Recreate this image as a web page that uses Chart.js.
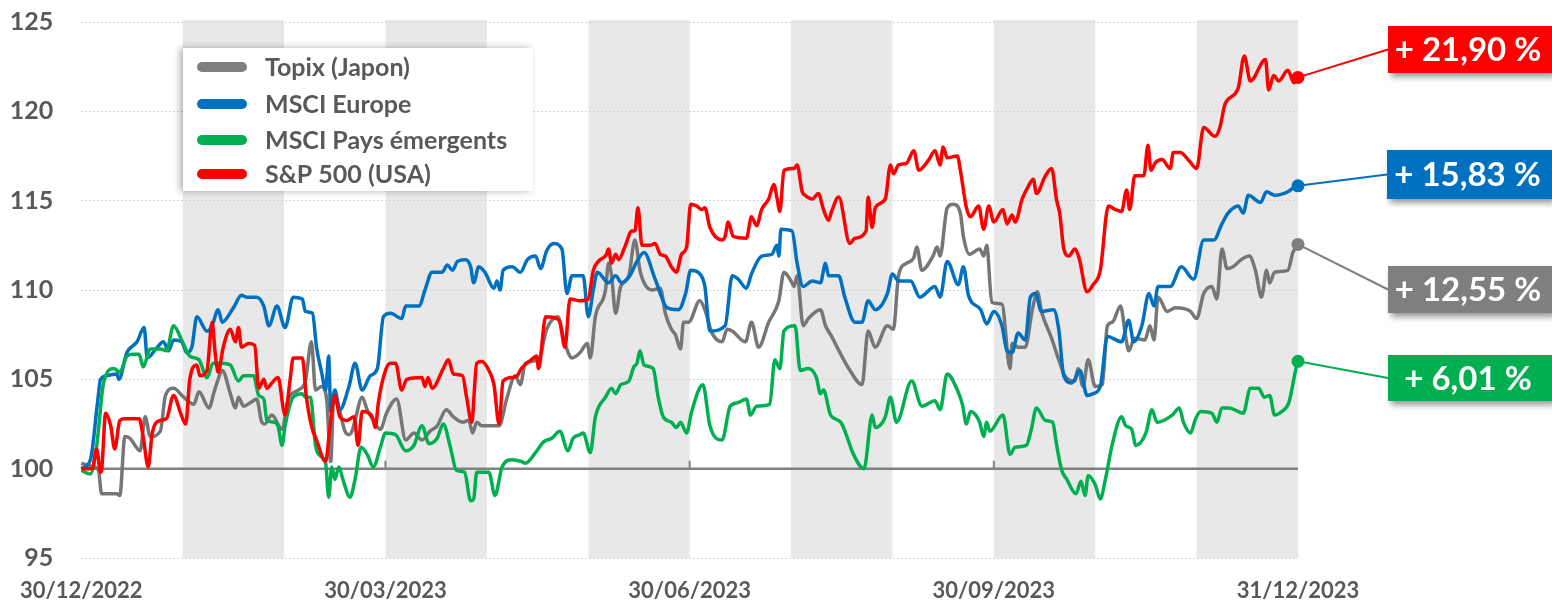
<!DOCTYPE html>
<html>
<head>
<meta charset="utf-8">
<script src="https://cdn.jsdelivr.net/npm/chart.js@4.4.1/dist/chart.umd.min.js"></script>
<style>
    html, body { margin: 0; padding: 0; background: #fff; }
    #wrap { width: 1552px; height: 603px; }
</style>
</head>
<body>
<div id="wrap"><canvas id="perfChart" width="1552" height="603"></canvas></div>
<script>
// x = months since 30/12/2022, y = base 100
const tickMonths = [0, 3, 6, 9, 12];
const tickLabels = ['30/12/2022', '30/03/2023', '30/06/2023', '30/09/2023', '31/12/2023'];
const shadedMonths = [[1, 2], [3, 4], [5, 6], [7, 8], [9, 10], [11, 12]];

const seriesNames = ['Topix (Japon)', 'MSCI Europe', 'MSCI Pays émergents', 'S&P 500 (USA)'];
const finalPerf = ['+ 12,55 %', '+ 15,83 %', '+ 6,01 %', '+ 21,90 %'];

const topix = [[0,100.3],[0.12,100.1],[0.17,99.9],[0.2,98.6],[0.29,98.6],[0.35,98.6],[0.38,98.5],[0.43,101.8],[0.48,101.7],[0.58,101],[0.63,102.9],[0.68,101.8],[0.78,102.1],[0.83,104.1],[0.91,104.5],[1.01,104],[1.11,103.6],[1.16,104.3],[1.26,103.4],[1.31,104.3],[1.35,105],[1.39,105.5],[1.47,104.2],[1.52,103.4],[1.55,104],[1.6,103.5],[1.67,103.7],[1.73,103.9],[1.78,102.6],[1.81,102.5],[1.88,103],[1.98,102.2],[2.04,103.9],[2.14,104.4],[2.21,104.9],[2.27,107.1],[2.31,104.4],[2.37,104.6],[2.42,103.9],[2.46,100.4],[2.49,103.9],[2.55,103.2],[2.6,102.1],[2.64,101.9],[2.67,102.1],[2.7,102.7],[2.77,104],[2.82,103.3],[2.88,102.7],[2.95,102.2],[3.01,103.1],[3.11,103.9],[3.2,101.6],[3.28,102],[3.36,101.6],[3.44,102.1],[3.51,102.4],[3.6,103.3],[3.67,102.9],[3.76,102.6],[3.82,102.7],[3.86,102],[3.9,102.6],[3.95,102.4],[4.12,102.4],[4.2,104],[4.28,105.2],[4.33,104.7],[4.38,105.9],[4.51,106.1],[4.59,107.8],[4.7,108.5],[4.77,107],[4.84,106.2],[4.92,106.5],[4.99,107],[5.02,106.2],[5.07,108.5],[5.17,110],[5.2,111.5],[5.23,110.8],[5.27,108.7],[5.32,110.2],[5.4,110.8],[5.46,112.8],[5.51,111.1],[5.56,110.3],[5.63,110],[5.71,110.1],[5.76,108.7],[5.82,107.8],[5.86,107.5],[5.91,106.7],[5.94,108.2],[5.99,108.2],[6.1,109.4],[6.15,108.9],[6.22,107.6],[6.32,107.1],[6.37,107.8],[6.42,107.7],[6.55,107.1],[6.61,108.2],[6.68,106.8],[6.78,108.2],[6.88,109.4],[6.93,111],[7,110.5],[7.03,110.2],[7.06,110.8],[7.12,108],[7.17,108.4],[7.29,108.9],[7.34,108],[7.4,107.4],[7.5,106.3],[7.57,105.6],[7.7,104.7],[7.76,107.7],[7.83,106.8],[7.95,108],[8.01,107.8],[8.06,110.8],[8.14,111.5],[8.21,111.8],[8.24,112.4],[8.29,111.1],[8.4,111.9],[8.44,112.4],[8.47,111.9],[8.54,114.6],[8.6,114.8],[8.67,114.3],[8.7,113],[8.76,112],[8.86,112.3],[8.9,111.9],[8.93,112.5],[8.98,109.3],[9.08,109.2],[9.16,105.6],[9.18,107],[9.24,106.8],[9.31,106.8],[9.38,108.9],[9.43,109.9],[9.47,108.8],[9.57,107.3],[9.64,106.1],[9.7,105.2],[9.8,104.9],[9.83,105.6],[9.88,104.6],[9.93,106.1],[10,104.6],[10.07,104.7],[10.12,108],[10.17,108.2],[10.25,109.1],[10.3,107.4],[10.33,106.6],[10.39,107.3],[10.49,107.2],[10.54,108],[10.58,107.2],[10.62,109.6],[10.71,108.8],[10.79,109],[10.94,108.8],[11,108.4],[11.07,109.8],[11.15,110.2],[11.2,109.5],[11.25,112.3],[11.3,111.2],[11.36,111.3],[11.44,111.7],[11.52,111.9],[11.58,111.1],[11.64,109.6],[11.69,111.1],[11.72,110.4],[11.77,111],[11.9,111.1],[11.95,112.1],[12,112.55]];

const msciEurope = [[0,100],[0.09,100.5],[0.16,103.7],[0.19,105],[0.25,105.2],[0.35,105.3],[0.37,105],[0.45,106.5],[0.55,107.1],[0.62,107.9],[0.65,106.2],[0.75,106.8],[0.81,107.1],[0.86,106.6],[0.91,107.2],[0.99,107.1],[1.04,106.5],[1.09,106.8],[1.14,108.5],[1.24,107.7],[1.29,108],[1.35,108.9],[1.39,108.2],[1.5,109],[1.58,109.7],[1.63,109.6],[1.73,109.6],[1.8,109.1],[1.85,108],[1.93,109.1],[2.01,107.9],[2.09,109.6],[2.18,109.5],[2.21,108.8],[2.28,108.7],[2.32,106.8],[2.37,105.4],[2.41,104.4],[2.44,106.3],[2.46,103.2],[2.5,104.4],[2.55,103.3],[2.64,104.6],[2.7,105.9],[2.77,104.4],[2.85,105.2],[2.92,105.6],[2.98,108.5],[3.05,108.7],[3.16,108.4],[3.2,109.1],[3.33,109.1],[3.39,110],[3.46,111],[3.56,111],[3.61,111.4],[3.66,111.1],[3.71,111.6],[3.79,111.7],[3.84,111.3],[3.87,110.4],[3.92,111.3],[3.98,111],[4.07,110.1],[4.1,110.5],[4.13,110],[4.16,111.1],[4.25,111.3],[4.33,111],[4.4,111.7],[4.48,111.9],[4.53,111.2],[4.59,112.2],[4.66,112.6],[4.74,112.3],[4.79,109.8],[4.84,110.8],[4.9,110.8],[4.95,110.8],[5,108.5],[5.05,110],[5.09,111],[5.2,110.4],[5.27,110.8],[5.33,110.4],[5.41,110.8],[5.48,111.6],[5.55,112.1],[5.66,110.6],[5.78,109],[5.89,108.9],[5.96,109.8],[6.01,111.1],[6.1,110.9],[6.15,110.2],[6.2,107.7],[6.35,108],[6.42,110.8],[6.48,110.6],[6.56,110.1],[6.61,110.9],[6.71,111.9],[6.81,112],[6.86,112.5],[6.88,111.9],[6.9,113.4],[7.01,113.3],[7.06,111.5],[7.12,110.2],[7.21,110.5],[7.29,110.4],[7.34,111.5],[7.37,110.8],[7.47,110.8],[7.53,109.6],[7.63,108.2],[7.7,108.2],[7.76,109.4],[7.83,108.9],[7.95,109.8],[8,110.9],[8.06,110.5],[8.18,110.5],[8.27,109.6],[8.42,110.2],[8.47,109.6],[8.54,111.6],[8.65,110.3],[8.7,111.3],[8.75,109.7],[8.87,108.9],[8.93,108.1],[9,108.8],[9.08,108],[9.13,106.6],[9.18,106.5],[9.24,107.6],[9.31,107.2],[9.36,109.6],[9.41,109.8],[9.47,108.8],[9.59,108.9],[9.64,107.8],[9.69,105.2],[9.77,104.8],[9.85,105.5],[9.92,104.1],[9.98,104.2],[10.05,104.6],[10.12,107.4],[10.26,107.1],[10.33,108.3],[10.38,107.1],[10.46,108],[10.53,109.8],[10.58,109.1],[10.62,110.2],[10.74,110.2],[10.85,111.3],[10.97,110.6],[11.07,112.8],[11.17,112.8],[11.25,113.7],[11.31,114.3],[11.41,114.7],[11.46,114.3],[11.51,115.3],[11.63,114.9],[11.69,115.5],[11.77,115.3],[11.9,115.5],[11.95,115.7],[12,115.83]];

const msciEmerging = [[0,99.9],[0.09,99.7],[0.15,101.2],[0.22,104.8],[0.32,105.6],[0.38,105.4],[0.45,106.3],[0.51,106.4],[0.57,106.4],[0.61,105.7],[0.68,106.7],[0.78,106.7],[0.84,106.6],[0.91,108],[0.99,107.2],[1.07,106.3],[1.16,106.1],[1.24,105.1],[1.3,105.9],[1.39,105.9],[1.47,105.8],[1.55,104.9],[1.6,105.2],[1.7,105.2],[1.75,104.1],[1.8,103.9],[1.83,102.7],[1.9,102.6],[1.94,102.4],[1.98,101.3],[2.01,102.4],[2.09,104],[2.18,104.2],[2.21,104],[2.26,104],[2.31,101.3],[2.36,100.7],[2.41,100.3],[2.44,98.4],[2.47,100.1],[2.5,99.4],[2.54,100.1],[2.58,99.4],[2.65,98.4],[2.7,99.4],[2.76,101.2],[2.82,100.8],[2.88,100.1],[2.95,101.2],[3,102],[3.1,101.9],[3.2,101],[3.28,101.3],[3.36,102.4],[3.43,101.4],[3.51,101.7],[3.57,102.5],[3.64,101.2],[3.7,99.9],[3.78,99.8],[3.84,98.2],[3.87,98.3],[3.9,99.8],[4.02,99.8],[4.08,98.5],[4.15,100.1],[4.25,100.5],[4.34,100.4],[4.38,100.3],[4.48,100.9],[4.56,101.5],[4.64,101.7],[4.72,102.1],[4.8,101],[4.85,101.7],[4.92,101.9],[4.95,102],[5.02,100.9],[5.07,102.9],[5.17,104],[5.23,104.5],[5.27,104.2],[5.32,104.7],[5.4,104.9],[5.45,105.7],[5.48,105.9],[5.51,106.6],[5.55,105.8],[5.64,105.6],[5.69,104],[5.74,102.9],[5.82,102.6],[5.87,102.3],[5.91,102.6],[5.97,102],[6.02,103.2],[6.13,104.7],[6.2,102.4],[6.32,101.6],[6.4,103.5],[6.48,103.7],[6.56,103.9],[6.6,103],[6.66,103.5],[6.79,103.6],[6.84,106.1],[6.89,105.6],[6.93,107.7],[7.04,108],[7.09,105.5],[7.17,105.6],[7.25,105.1],[7.29,104.2],[7.32,104.4],[7.39,103],[7.49,102.6],[7.57,101.5],[7.6,101],[7.72,100],[7.8,103],[7.83,102.3],[7.93,102.9],[7.98,104],[8.04,102.6],[8.19,104.9],[8.29,103.5],[8.42,103.8],[8.47,103.3],[8.54,105.3],[8.64,104.4],[8.69,103.6],[8.73,102.5],[8.77,103.2],[8.86,102.6],[8.9,101.8],[8.93,102.6],[8.96,102.1],[9.09,103],[9.16,100.8],[9.21,101.2],[9.32,101.3],[9.37,102.2],[9.42,103.4],[9.51,102.7],[9.58,102.6],[9.62,101.3],[9.67,99.9],[9.72,99.4],[9.81,98.6],[9.86,99.3],[9.9,98.5],[9.93,99.6],[10,99.1],[10.05,98.3],[10.1,99.4],[10.17,101.4],[10.26,102.9],[10.3,102.4],[10.36,102.2],[10.4,101.3],[10.5,102],[10.56,103.3],[10.61,102.6],[10.76,103],[10.83,103.4],[10.87,102.6],[10.94,102],[10.99,102.8],[11.04,103.2],[11.15,103.1],[11.2,102.6],[11.25,103.4],[11.32,103.4],[11.46,103.1],[11.53,104.5],[11.61,104.5],[11.67,104],[11.72,104.1],[11.77,103],[11.84,103.2],[11.91,103.7],[11.98,105.6],[12,106.01]];

const sp500 = [[0,100],[0.11,100],[0.15,101.1],[0.19,99.8],[0.2,99.9],[0.24,103.1],[0.29,102.4],[0.33,101.1],[0.38,102.7],[0.43,102.8],[0.57,102.8],[0.61,101.8],[0.66,100.1],[0.7,102],[0.78,102.7],[0.84,102.8],[0.91,104.1],[0.98,103.1],[1.03,102.5],[1.07,105],[1.14,105.8],[1.17,105.2],[1.24,105.5],[1.29,108.2],[1.32,106.5],[1.35,105.4],[1.4,106.8],[1.47,107.8],[1.52,107.1],[1.55,107.9],[1.58,106.8],[1.65,107],[1.71,106.9],[1.75,104.5],[1.8,105],[1.83,104.5],[1.88,104.8],[1.94,105.1],[2.01,103],[2.06,105],[2.09,106.2],[2.18,106.2],[2.22,104],[2.27,102.4],[2.32,101.6],[2.41,100.4],[2.45,102.2],[2.5,104.1],[2.55,102.9],[2.62,102.7],[2.69,102.9],[2.73,101.3],[2.77,103.2],[2.87,102.9],[2.9,102.3],[2.93,103.7],[3,105.5],[3.05,105.9],[3.1,105.9],[3.16,104.4],[3.21,105],[3.36,105.1],[3.39,104.6],[3.42,105.1],[3.46,104.5],[3.57,105.6],[3.62,106.1],[3.67,105.3],[3.76,105.2],[3.8,104],[3.85,102.6],[3.9,105.9],[3.95,106],[4.02,105.5],[4.07,104.7],[4.12,102.5],[4.16,104.9],[4.25,105.1],[4.3,105.2],[4.34,105.6],[4.44,106.1],[4.49,106.3],[4.51,105.6],[4.58,108.5],[4.69,108.4],[4.72,108.2],[4.77,106.8],[4.82,109.5],[4.92,109.4],[5,109.5],[5.05,111.1],[5.1,111.6],[5.18,112],[5.2,112.3],[5.23,111.5],[5.27,112],[5.3,111.7],[5.36,112.4],[5.43,113.3],[5.46,113.3],[5.49,114.6],[5.53,112.5],[5.61,112.5],[5.66,112.6],[5.71,112],[5.76,111.9],[5.82,111.3],[5.87,111],[5.92,112],[5.97,112.4],[6.01,114.8],[6.07,114.7],[6.12,114.5],[6.15,114.6],[6.2,113.5],[6.32,112.8],[6.35,113],[6.38,113.8],[6.43,113],[6.56,112.9],[6.61,114.1],[6.66,113.6],[6.71,114.5],[6.78,115.1],[6.83,115.9],[6.86,115.2],[6.89,114.4],[6.93,116.7],[7.03,116.8],[7.06,117],[7.11,115.5],[7.14,115.3],[7.21,115.1],[7.27,115.4],[7.32,114.5],[7.37,113.9],[7.4,114.4],[7.47,115.2],[7.58,112.6],[7.63,112.9],[7.74,113.3],[7.76,115.2],[7.8,113.5],[7.83,114.6],[7.93,115.1],[7.98,117],[8.01,116.5],[8.06,117],[8.14,117.1],[8.21,117.8],[8.26,116.7],[8.36,117.3],[8.42,117.8],[8.47,117],[8.5,118],[8.54,117.4],[8.64,117.5],[8.67,116.7],[8.73,114.6],[8.77,114.1],[8.85,114.7],[8.9,113.4],[8.95,114.7],[9,113.8],[9.09,114.5],[9.13,113.7],[9.18,114.2],[9.21,113.8],[9.28,115.1],[9.34,115.8],[9.39,116.2],[9.42,115.4],[9.51,116.4],[9.57,116.8],[9.62,115],[9.65,114.3],[9.69,112.3],[9.74,111.9],[9.8,112.3],[9.84,111.8],[9.92,109.9],[9.98,110.3],[10.05,111.1],[10.13,114.7],[10.2,114.5],[10.26,114.4],[10.31,115.6],[10.34,114.5],[10.39,116.4],[10.48,116.4],[10.52,118.1],[10.55,116.7],[10.59,117.1],[10.66,117.3],[10.74,116.8],[10.77,117.7],[10.84,117.7],[10.93,117.2],[11,116.8],[11.07,119.1],[11.18,118.6],[11.23,119.1],[11.28,120.4],[11.41,121.3],[11.47,123.1],[11.53,121.7],[11.68,122.9],[11.71,121.2],[11.76,122],[11.81,121.7],[11.9,122.3],[11.96,121.6],[12,121.9]];

const seriesData = [topix, msciEurope, msciEmerging, sp500];
const seriesColors = ['#767676', '#0070C0', '#00B050', '#FF0000'];
const boxColors = ['#7F7F7F', '#0070C0', '#00B050', '#FF0000'];
const drawOrder = [3, 2, 1, 0];   // S&P on top

const FONT = 'Lato, "Open Sans", "DejaVu Sans", sans-serif';
const TEXT_GREY = '#595959';

// étiquettes de performance (coin droit)
const labelBoxes = [
    {x: 1388, y: 266, w: 164, h: 47},
    {x: 1387, y: 150, w: 165, h: 49},
    {x: 1388, y: 355, w: 164, h: 46},
    {x: 1388, y: 26, w: 164, h: 47}
];

/**
 * Bandes grises mensuelles + ligne de base 100
 */
const backgroundPlugin = {
    id: 'monthBands',
    beforeDraw(chart) {
        const {ctx, chartArea: area, scales: {x}} = chart;
        ctx.save();
        ctx.fillStyle = '#E8E8E8';
        shadedMonths.forEach(([from, to]) => {
            const x0 = x.getPixelForValue(from);
            const x1 = x.getPixelForValue(to);
            ctx.fillRect(x0, area.top - 2, x1 - x0, area.bottom - area.top + 2);
        });
        ctx.restore();
    },
    beforeDatasetsDraw(chart) {
        const {ctx, chartArea: area, scales: {x, y}} = chart;
        const y100 = y.getPixelForValue(100);
        ctx.save();
        ctx.strokeStyle = '#808080';
        ctx.lineWidth = 2.5;
        ctx.beginPath();
        ctx.moveTo(area.left, y100);
        ctx.lineTo(area.right, y100);
        ctx.stroke();
        ctx.lineWidth = 2;
        tickMonths.slice(1, -1).forEach(m => {
            const px = x.getPixelForValue(m);
            ctx.beginPath();
            ctx.moveTo(px, y100 - 8);
            ctx.lineTo(px, y100);
            ctx.stroke();
        });

        // connecteurs vers les étiquettes
        seriesData.forEach((s, i) => {
            const meta = chart.getDatasetMeta(i);
            const pt = meta.data[meta.data.length - 1];
            const box = labelBoxes[i];
            ctx.strokeStyle = boxColors[i];
            ctx.lineWidth = 2;
            ctx.beginPath();
            ctx.moveTo(pt.x, pt.y);
            ctx.lineTo(box.x, box.y + box.h / 2);
            ctx.stroke();
        });
        ctx.restore();
    }
};

const overlayPlugin = {
    id: 'overlay',
    afterDatasetsDraw(chart) {
        const {ctx} = chart;
        ctx.save();

        // légende
        ctx.shadowColor = 'rgba(0,0,0,0.3)';
        ctx.shadowBlur = 7;
        ctx.shadowOffsetX = -3;
        ctx.fillStyle = '#FFFFFF';
        ctx.fillRect(183, 48, 350, 143);
        ctx.shadowColor = 'transparent';
        const legendY = [67, 104, 140, 174];
        seriesNames.forEach((name, i) => {
            ctx.strokeStyle = boxColors[i];
            ctx.lineWidth = 10;
            ctx.lineCap = 'round';
            ctx.beginPath();
            ctx.moveTo(202, legendY[i]);
            ctx.lineTo(242, legendY[i]);
            ctx.stroke();
            ctx.fillStyle = TEXT_GREY;
            ctx.font = 'bold 25px ' + FONT;
            ctx.textBaseline = 'middle';
            ctx.textAlign = 'left';
            ctx.fillText(name, 265, legendY[i] + 1);
        });

        // boîtes de performance
        labelBoxes.forEach((box, i) => {
            ctx.shadowColor = 'rgba(0,0,0,0.4)';
            ctx.shadowBlur = 6;
            ctx.shadowOffsetX = 3;
            ctx.shadowOffsetY = 4;
            ctx.fillStyle = boxColors[i];
            ctx.fillRect(box.x, box.y, box.w, box.h);
            ctx.shadowColor = 'transparent';
            ctx.fillStyle = '#FFFFFF';
            ctx.font = 'bold 33px ' + FONT;
            ctx.textAlign = 'center';
            ctx.textBaseline = 'middle';
            ctx.fillText(finalPerf[i], box.x + box.w / 2 - 2, box.y + box.h / 2 + 1);
        });
        ctx.restore();
    }
};

const ctx = document.getElementById('perfChart');

const chart = new Chart(ctx, {
    type: 'line',
    data: {
        datasets: seriesData.map((s, i) => ({
            label: seriesNames[i],
            data: s.map(p => ({x: p[0], y: p[1]})),
            borderColor: seriesColors[i],
            backgroundColor: boxColors[i],
            borderWidth: 3.5,
            cubicInterpolationMode: 'monotone',
            pointRadius: c => c.dataIndex === s.length - 1 ? 6.5 : 0,
            pointHoverRadius: 0,
            pointBorderWidth: 0,
            clip: false,
            order: drawOrder[i]
        }))
    },
    options: {
        responsive: false,
        animation: false,
        layout: {
            padding: {top: 22, right: 254, bottom: 0, left: 0}
        },
        plugins: {
            legend: {display: false},
            tooltip: {enabled: false}
        },
        scales: {
            x: {
                type: 'linear',
                min: 0,
                max: 12,
                grid: {display: false, drawTicks: false},
                border: {display: false},
                afterBuildTicks: scale => {
                    scale.ticks = tickMonths.map(v => ({value: v}));
                },
                afterFit: scale => { scale.height = 45; },
                ticks: {
                    autoSkip: false,
                    maxRotation: 0,
                    padding: 20,
                    color: TEXT_GREY,
                    font: {family: FONT, size: 22, weight: 'bold'},
                    callback: function(value) {
                        return tickLabels[tickMonths.indexOf(value)];
                    }
                }
            },
            y: {
                min: 95,
                max: 125,
                afterFit: scale => {
                    scale.width = 81;
                    scale.paddingTop = 0;
                    scale.paddingBottom = 0;
                },
                grid: {color: '#D4D4D4', lineWidth: 1, drawTicks: false},
                border: {display: false, dash: [2, 2]},
                ticks: {
                    stepSize: 5,
                    padding: 28,
                    color: TEXT_GREY,
                    font: {family: FONT, size: 25, weight: 'bold'}
                }
            }
        }
    },
    plugins: [backgroundPlugin, overlayPlugin]
});
</script>
</body>
</html>
